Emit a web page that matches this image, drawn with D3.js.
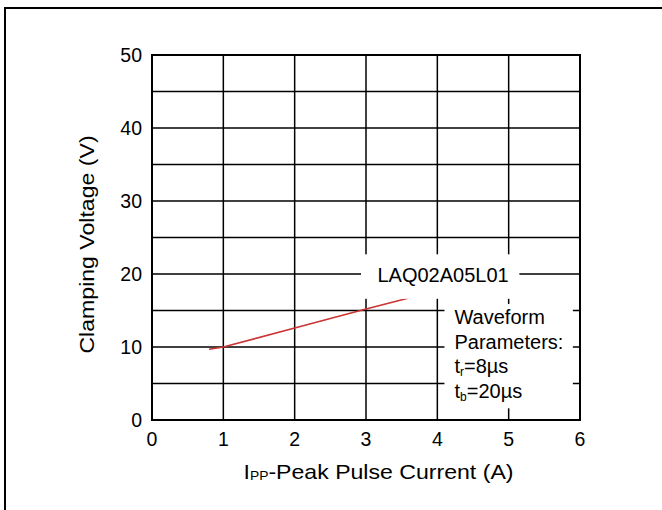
<!DOCTYPE html>
<html>
<head>
<meta charset="utf-8">
<script src="https://cdn.jsdelivr.net/npm/d3@7"></script>
<style>
  body { margin: 0; background: #fff; }
  text { font-family: "Liberation Sans", Arial, sans-serif; fill: #000; }
</style>
</head>
<body>
<svg id="chart" width="662" height="510"></svg>
<script>
// data
let current = [0.8, 1, 2, 3, 3.6];
let voltage = [9.7, 10, 12.6, 15.2, 16.7];
let xTicks = [0, 1, 2, 3, 4, 5, 6];
let yTicks = [0, 10, 20, 30, 40, 50];
let yGrid = [5, 10, 15, 20, 25, 30, 35, 40, 45];
let seriesName = "LAQ02A05L01";
let noteLines = ["Waveform", "Parameters:", ["t", "r", "=8µs"], ["t", "b", "=20µs"]];

let margin = {top: 55, left: 152, right: 82, bottom: 90};
let svgWidth = 662, svgHeight = 510;
let width = svgWidth - margin.left - margin.right;
let height = svgHeight - margin.top - margin.bottom;

let svg = d3.select('#chart');

// outer frame (right & bottom fall outside the picture)
svg.append('rect')
   .attr('x', 5).attr('y', 8)
   .attr('width', 700).attr('height', 600)
   .attr('fill', 'none').attr('stroke', '#000').attr('stroke-width', 2);

let g = svg.append('g')
           .attr('transform', 'translate(' + margin.left + ',' + margin.top + ')');

let x = d3.scaleLinear().domain([0, 6]).range([0, width]);
let y = d3.scaleLinear().domain([0, 50]).range([height, 0]);

// grid
g.append('g').selectAll('line').data(xTicks.slice(1, -1)).enter().append('line')
 .attr('x1', d => x(d)).attr('x2', d => x(d))
 .attr('y1', 0).attr('y2', height)
 .attr('stroke', '#000').attr('stroke-width', 1.5);
g.append('g').selectAll('line').data(yGrid).enter().append('line')
 .attr('x1', 0).attr('x2', width)
 .attr('y1', d => y(d)).attr('y2', d => y(d))
 .attr('stroke', '#000').attr('stroke-width', 1.5);

// series
let line = d3.line().x((d, i) => x(current[i])).y(d => y(d));
g.append('path')
 .datum(voltage)
 .attr('d', line)
 .attr('fill', 'none')
 .attr('stroke', '#cc3333')
 .attr('stroke-width', 1.6);

// label boxes
g.append('rect')
 .attr('x', x(2.93)).attr('y', y(22.7))
 .attr('width', x(5.15) - x(2.93)).attr('height', y(16.6) - y(22.7))
 .attr('fill', '#fff');
g.append('text')
 .attr('x', x(4.08)).attr('y', y(20) + 8)
 .attr('text-anchor', 'middle')
 .attr('font-size', 20)
 .text(seriesName);

g.append('rect')
 .attr('x', x(4.1)).attr('y', y(15.9))
 .attr('width', x(5.9) - x(4.1)).attr('height', y(1.6) - y(15.9))
 .attr('fill', '#fff');
let note = g.append('text').attr('font-size', 20);
noteLines.forEach(function (d, i) {
    let t = note.append('tspan').attr('x', x(4.24)).attr('y', y(14) + 6 + 24.7 * i);
    if (typeof d === 'string') {
        t.text(d);
    } else {
        t.text(d[0]);
        note.append('tspan').attr('font-size', 12).attr('dy', 3).text(d[1]);
        note.append('tspan').attr('dy', -3).text(d[2]);
    }
});

// plot border
g.append('rect')
 .attr('width', width).attr('height', height)
 .attr('fill', 'none').attr('stroke', '#000').attr('stroke-width', 2);

// tick labels
g.append('g').selectAll('text').data(xTicks).enter().append('text')
 .attr('x', d => x(d)).attr('y', height + 26)
 .attr('text-anchor', 'middle').attr('font-size', 19.5)
 .text(d => d);
g.append('g').selectAll('text').data(yTicks).enter().append('text')
 .attr('x', -10).attr('y', d => y(d) + 7)
 .attr('text-anchor', 'end').attr('font-size', 19.5)
 .text(d => d);

// axis titles (a bit stretched in the original)
let xt = g.append('text')
 .attr('transform', 'translate(' + (width / 2 + 12.5) + ',' + (height + 59) + ') scale(1.155,1)')
 .attr('text-anchor', 'middle').attr('font-size', 20);
xt.append('tspan').text('I');
xt.append('tspan').attr('font-size', 12).attr('dy', 0.5).text('PP');
xt.append('tspan').attr('dy', -0.5).text('-Peak Pulse Current (A)');

g.append('text')
 .attr('transform', 'translate(' + (-58) + ',' + (height / 2 + 7) + ') rotate(-90) scale(1.155,1)')
 .attr('text-anchor', 'middle').attr('font-size', 20)
 .text('Clamping Voltage (V)');
</script>
</body>
</html>
